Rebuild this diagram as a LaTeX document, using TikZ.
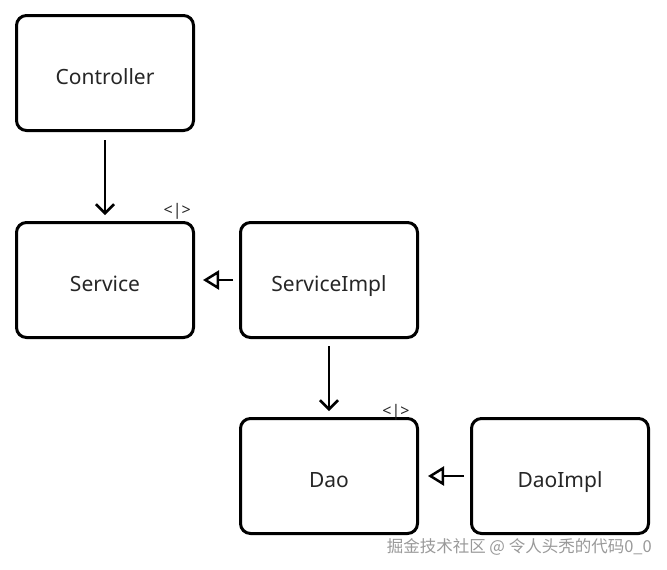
\documentclass[tikz,border=0pt]{standalone}
\usepackage{fontspec}
\setmainfont{Noto Sans}
\newfontfamily\cjkfont{Noto Sans CJK SC}
\usetikzlibrary{arrows.meta,positioning}

\begin{document}
\begin{tikzpicture}[
  x=1pt,y=-1pt,
  font=\fontsize{21}{25}\selectfont,
  cls/.style={draw,line width=3pt,rounded corners=10pt,minimum width=177pt,minimum height=115pt,text height=22pt,text depth=0pt,align=center,text=black!85},
  dep/.style={line width=2.5pt,-{Straight Barb[length=9pt,width=18pt]}},
  impl/.style={line width=2.5pt,-{Triangle[open,length=16pt,width=19pt,line width=2.5pt]}},
  iface/.style={font=\fontsize{16}{18}\selectfont,inner sep=0pt,text=black!85}
]
\useasboundingbox (0,0) rectangle (667,570);

% layers
\node[cls] (ctrl) at (105,73) {Controller};
\node[cls,below=89pt of ctrl] (svc) {Service};
\node[cls,right=44pt of svc] (svcimpl) {ServiceImpl};
\node[cls,below=78pt of svcimpl] (dao) {Dao};
\node[cls,right=51pt of dao] (daoimpl) {DaoImpl};

% interface marks
\node[iface,anchor=south east] at ([xshift=-4pt,yshift=1pt]svc.north east) {<|>};
\node[iface] at ([xshift=-23pt,yshift=5pt]dao.north east) {<|>};

% arrows
\draw[dep,shorten <=8pt,shorten >=6pt] (ctrl) -- (svc);
\draw[impl,shorten <=6pt,shorten >=8pt] (svcimpl) -- (svc);
\draw[dep,shorten <=7pt,shorten >=6pt] (svcimpl) -- (dao);
\draw[impl,shorten <=6pt,shorten >=9pt] (daoimpl) -- (dao);

% watermark
\node[font=\cjkfont\fontsize{16.5}{19}\selectfont,text=black!40,anchor=base east,inner sep=0pt] (wm) at (652,552) {掘金技术社区 @ 令人头秃的代码0\_0};
\end{tikzpicture}
\end{document}
